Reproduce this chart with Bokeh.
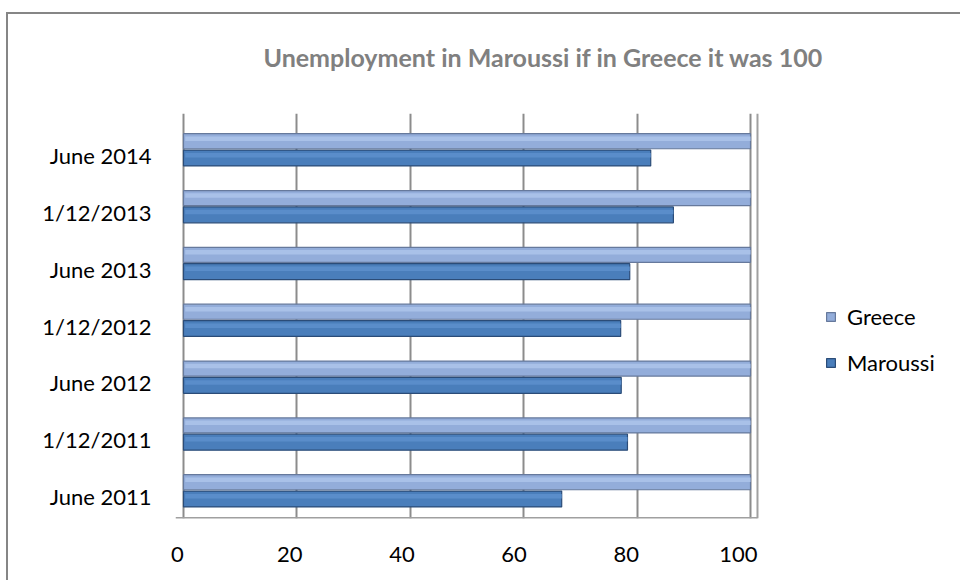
from bokeh.plotting import figure
from bokeh.models import (ColumnDataSource, Range1d, LinearAxis, FixedTicker, Legend, LegendItem, Span, Title)
from bokeh.transform import dodge
from bokeh.embed import file_html
from bokeh.resources import INLINE

# ---- data (bottom to top) ----
categories = ["June 2011", "1/12/2011", "June 2012", "1/12/2012", "June 2013", "1/12/2013", "June 2014"]
greece = [100, 100, 100, 100, 100, 100, 100]
maroussi = [66.7, 78.3, 77.2, 77.1, 78.7, 86.4, 82.4]
x_ticks = [0, 20, 40, 60, 80, 100]
title_text = "Unemployment in Maroussi if in Greece it was 100"

pos = list(range(len(categories)))
src = ColumnDataSource(dict(pos=pos, cat=categories, greece=greece, maroussi=maroussi))

FONT = "Lato"

# ranges (frame also holds the legend area on the right)
X0, X1 = -1.41, 135.27
Y0, Y1 = -0.493, 6.633
WALL = 101.23  # right wall of the 3D box

p = figure(width=954, height=568, output_backend="svg", toolbar_location=None,
           x_range=Range1d(X0, X1), y_range=Range1d(Y0, Y1),
           min_border_left=167, min_border_right=12, min_border_top=99, min_border_bottom=64,
           x_axis_location=None, y_axis_location=None,
           margin=(12, 0, 0, 6),
           styles={"border-left": "2px solid #868686", "border-top": "2px solid #868686"})
p.background_fill_color = "white"
p.border_fill_color = "white"
p.outline_line_color = None

# spacer between frame and title
p.add_layout(Title(text=" ", text_font_size="1px", standoff=34), "above")

# title
p.title.text = title_text
p.title.align = "left"
p.title.offset = 88
p.title.standoff = 10
p.title.text_font = FONT
p.title.text_font_style = "bold"
p.title.text_font_size = "25px"
p.title.text_color = "#808080"

# grid (back wall)
p.xgrid.ticker = FixedTicker(ticks=x_ticks)
p.xgrid.grid_line_color = "#8c8c8c"
p.xgrid.grid_line_width = 2
p.ygrid.grid_line_color = None

# axes on slightly shifted ranges (front plane of 3D box)
p.extra_x_ranges = {"front": Range1d(-0.356, 137.79)}
p.extra_y_ranges = {"labels": Range1d(-0.387, 6.739)}

xaxis = LinearAxis(x_range_name="front", ticker=FixedTicker(ticks=x_ticks))
xaxis.axis_line_color = None
xaxis.major_tick_line_color = None
xaxis.minor_tick_line_color = None
xaxis.major_label_standoff = 22
xaxis.major_label_text_font = FONT
xaxis.major_label_text_font_size = "22px"
xaxis.major_label_text_color = "#000000"
p.add_layout(xaxis, "below")

yaxis = LinearAxis(y_range_name="labels", ticker=FixedTicker(ticks=pos),
                   major_label_overrides={i: c for i, c in zip(pos, categories)})
yaxis.axis_line_color = None
yaxis.major_tick_line_color = None
yaxis.minor_tick_line_color = None
yaxis.major_label_standoff = 18
yaxis.major_label_text_font = FONT
yaxis.major_label_text_font_size = "22px"
yaxis.major_label_text_color = "#000000"
p.add_layout(yaxis, "left")

# box edges: right wall and floor
p.add_layout(Span(location=WALL, dimension="height", line_color="#a0a0a0", line_width=2))
p.segment(x0=[X0], x1=[WALL], y0=[Y0], y1=[Y0], line_color="#a0a0a0", line_width=3)

# bars
g = p.hbar(y=dodge("pos", 0.145), left=0, right="greece", height=0.265, source=src,
           fill_color="#93ADDA", line_color="#66799c", line_width=1.2)
p.hbar(y=dodge("pos", 0.19), left=0.3, right="greece", height=0.08, source=src,
       fill_color="#A9C1E8", line_color=None)
m = p.hbar(y=dodge("pos", -0.15), left=0, right="maroussi", height=0.28, source=src,
           fill_color="#4A7EBB", line_color="#2B4C78", line_width=1.2)
p.hbar(y=dodge("pos", -0.10), left=0.3, right="maroussi", height=0.08, source=src,
       fill_color="#5A8DCA", line_color=None)

legend = Legend(items=[LegendItem(label="Greece", renderers=[g]),
                       LegendItem(label="Maroussi", renderers=[m])],
                location=(650, 142), orientation="vertical")
legend.border_line_color = None
legend.background_fill_alpha = 0
legend.padding = 0
legend.margin = 0
legend.glyph_width = 11
legend.glyph_height = 11
legend.label_standoff = 11
legend.spacing = 19
legend.label_text_font = FONT
legend.label_text_font_size = "22px"
legend.label_text_color = "#000000"
p.add_layout(legend, "center")

open("out.html", "w").write(file_html(p, INLINE))
